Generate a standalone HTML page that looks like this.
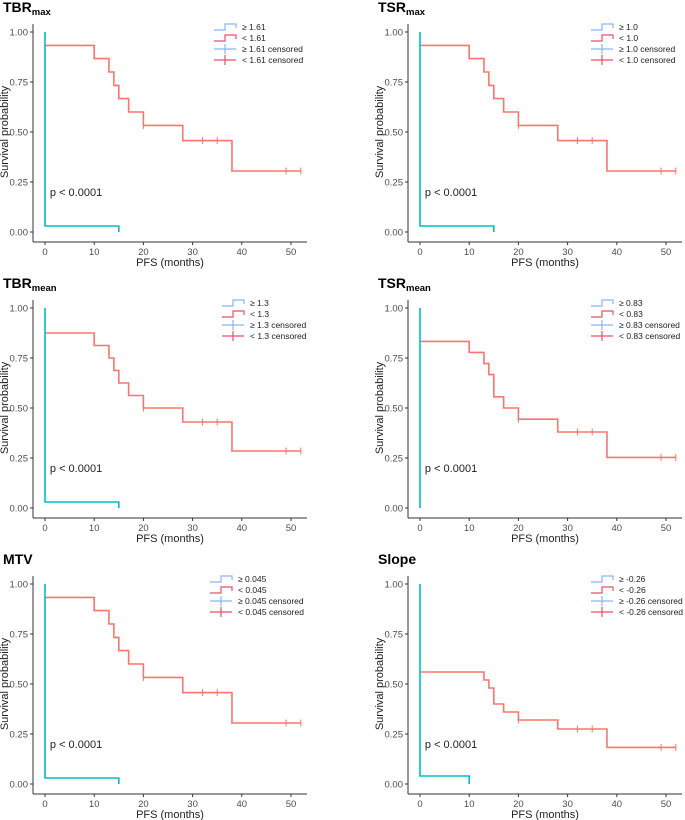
<!DOCTYPE html>
<html><head><meta charset="utf-8">
<style>
body{margin:0;background:#fff;}
svg{display:block;font-family:"Liberation Sans",sans-serif;}
.tick{font-size:9.5px;fill:#4d4d4d;}
.ax{font-size:11px;fill:#222;}
.ttl{font-family:"Liberation Sans",sans-serif;font-weight:bold;font-size:14px;fill:#000;}
.leg{font-size:8.5px;fill:#222;}
</style></head>
<body>
<svg id="chart" width="685" height="820" viewBox="0 0 685 820"></svg>
<script>
const panelNames=["TBR","TSR","TBR","TSR","MTV","Slope"];
const panelSubs=["max","max","mean","mean","",""];
const cutoffs=["1.61","1.0","1.3","0.83","0.045","-0.26"];
const redTimes=[[10,13,14,15,17,20,28,38],[10,13,14,15,17,20,28,38],[10,13,14,15,17,20,28,38],[10,13,14,15,17,20,28,38],[10,13,14,15,17,20,28,38],[13,14,15,17,20,28,38]];
const redSurv=[[0.933,0.867,0.8,0.733,0.667,0.6,0.533,0.457,0.305],[0.933,0.867,0.8,0.733,0.667,0.6,0.533,0.457,0.305],[0.875,0.8125,0.75,0.6875,0.625,0.5625,0.5,0.43,0.285],[0.833,0.778,0.722,0.667,0.556,0.5,0.444,0.38,0.253],[0.933,0.867,0.8,0.733,0.667,0.6,0.533,0.457,0.305],[0.56,0.52,0.48,0.40,0.36,0.32,0.275,0.183]];
const redEnd=[52,52,52,52,52,52];
const censorTimes=[20,32,35,49,52];
const blueLevel=[0.03,0.03,0.03,0,0.03,0.04];
const blueEnd=[15,15,15,0,15,10];
const xTicks=[0,10,20,30,40,50];
const yTicks=[0,0.25,0.5,0.75,1];
const yTickLabels=["0.00","0.25","0.50","0.75","1.00"];

const svg=document.getElementById('chart');
const NS="http://www.w3.org/2000/svg";
function mk(t,a,p){const e=document.createElementNS(NS,t);for(const k in a)e.setAttribute(k,a[k]);(p||svg).appendChild(e);return e;}
const RED="#F8766D",TEAL="#00BFC4",LBLUE="#8AB4F8",LRED="#E8506A";
const colAxis=[33,408];const rowTop=[32,308,584];
const legX=[214,591,222,591,210,591];

for(let p=0;p<6;p++){
  const ax=colAxis[p%2],y1=rowTop[Math.floor(p/2)];
  const g=mk('g',{});
  
  
  const X=t=>ax+12+t*(246/50);
  const Y=s=>y1+(1-s)*200;
  const tt=mk('text',{x:ax-30,y:y1-20,class:'ttl'},g);
  
  
  tt.textContent=panelNames[p];
  if(panelSubs[p]){const ts=mk('tspan',{'font-size':'9.5px',dy:'3'},tt);ts.textContent=panelSubs[p];}
  const bottom=y1+210;
  mk('line',{x1:ax,y1:y1-8,x2:ax,y2:bottom,stroke:'#333','stroke-width':1},g);
  mk('line',{x1:ax,y1:bottom,x2:ax+274,y2:bottom,stroke:'#333','stroke-width':1},g);
  yTicks.forEach((v,i)=>{
    mk('line',{x1:ax-3,y1:Y(v),x2:ax,y2:Y(v),stroke:'#333'},g);
    const t=mk('text',{x:ax-5,y:Y(v)+3.5,'text-anchor':'end',class:'tick'},g);
    
    
    t.textContent=yTickLabels[i];
  });
  xTicks.forEach(v=>{
    mk('line',{x1:X(v),y1:bottom,x2:X(v),y2:bottom+3,stroke:'#333'},g);
    const t=mk('text',{x:X(v),y:bottom+13,'text-anchor':'middle',class:'tick'},g);
    
    
    t.textContent=v;
  });
  const xl=mk('text',{x:ax+137,y:bottom+24,'text-anchor':'middle',class:'ax'},g);
  
  
  xl.textContent='PFS (months)';
  const yl=mk('text',{x:0,y:0,'text-anchor':'middle',class:'ax','font-size':'10.5px',transform:`translate(${ax-25},${y1+100}) rotate(-90)`},g);
  
  
  yl.textContent='Survival probability';
  let d=`M${X(0)},${Y(redSurv[p][0])}`;
  redTimes[p].forEach((t,i)=>{d+=` H${X(t)} V${Y(redSurv[p][i+1])}`;});
  d+=` H${X(redEnd[p])}`;
  const rc=mk('path',{d:d,fill:'none',stroke:RED,'stroke-width':1.6},g);
  
  
  censorTimes.forEach(c=>{
    let s=redSurv[p][0];redTimes[p].forEach((t,i)=>{if(c>=t)s=redSurv[p][i+1];});
    const cm=mk('line',{x1:X(c),y1:Y(s)-3.5,x2:X(c),y2:Y(s)+3.5,stroke:RED,'stroke-width':1},g);
    
    
  });
  let bd=`M${X(0)},${Y(1)} V${Y(blueLevel[p])}`;
  if(blueEnd[p]>0) bd+=` H${X(blueEnd[p])} V${Y(0)}`;
  const bc=mk('path',{d:bd,fill:'none',stroke:TEAL,'stroke-width':1.6},g);
  
  
  const pv=mk('text',{x:X(1),y:Y(0.2)+4,class:'ax','font-size':'10.5px'},g);
  
  
  pv.textContent='p < 0.0001';
  const lx=legX[p],ly=y1-5;
  const labs=['≥ '+cutoffs[p],'< '+cutoffs[p],'≥ '+cutoffs[p]+' censored','< '+cutoffs[p]+' censored'];
  const cols=[LBLUE,LRED,LBLUE,LRED];
  labs.forEach((l,i)=>{
    const yy=ly+i*11;
    const le=mk('g',{},g);
    
    
    if(i<2) mk('path',{d:`M${lx},${yy+3} H${lx+11} V${yy-3} H${lx+22} V${yy+1}`,fill:'none',stroke:cols[i],'stroke-width':1.2},le);
    else {mk('line',{x1:lx,y1:yy,x2:lx+22,y2:yy,stroke:cols[i],'stroke-width':1.2},le);mk('line',{x1:lx+11,y1:yy-5,x2:lx+11,y2:yy+5,stroke:cols[i],'stroke-width':1.2},le);}
    const t=mk('text',{x:lx+28,y:yy+3,class:'leg'},le);t.textContent=l;
  });
}
</script>
</body></html>
